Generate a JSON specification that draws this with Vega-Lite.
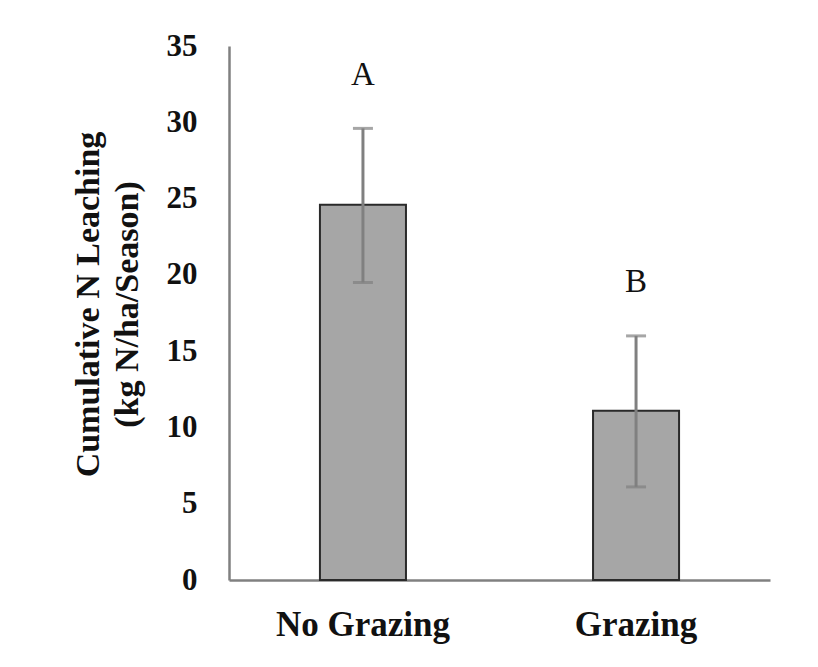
{
  "$schema": "https://vega.github.io/schema/vega-lite/v6.json",
  "autosize": {"type": "none"},
  "width": 541,
  "height": 534,
  "padding": {"left": 229, "top": 46, "right": 48, "bottom": 87},
  "background": "white",
  "config": {"view": {"stroke": null}},
  "data": {"values": [
    {"treatment": "No Grazing", "mean": 24.6, "lo": 19.5, "hi": 29.6, "letter": "A", "ly": 33.1},
    {"treatment": "Grazing", "mean": 11.1, "lo": 6.1, "hi": 16.0, "letter": "B", "ly": 19.5}
  ]},
  "encoding": {
    "x": {
      "field": "treatment", "type": "nominal", "sort": ["No Grazing", "Grazing"],
      "scale": {"paddingInner": 0.685, "paddingOuter": 0.333},
      "axis": {
        "title": null, "labelAngle": 0, "ticks": false, "domainColor": "#808080", "domainWidth": 2.5,
        "labelFont": "Liberation Serif", "labelFontWeight": "bold", "labelFontSize": 35, "labelColor": "#111111",
        "labelPadding": 27
      }
    }
  },
  "layer": [
    {
      "mark": {"type": "bar", "color": "#a6a6a6", "stroke": "#2a2a2a", "strokeWidth": 2},
      "encoding": {
        "y": {
          "field": "mean", "type": "quantitative",
          "scale": {"domain": [0, 35]},
          "axis": {
            "values": [0, 5, 10, 15, 20, 25, 30, 35], "grid": false, "ticks": false,
            "domainColor": "#808080", "domainWidth": 2.5,
            "labelFont": "Liberation Serif", "labelFontWeight": "bold", "labelFontSize": 31, "labelColor": "#111111",
            "labelPadding": 32,
            "title": ["Cumulative N Leaching", "(kg N/ha/Season)"],
            "titleFont": "Liberation Serif", "titleFontWeight": "bold", "titleFontSize": 34, "titleColor": "#111111",
            "titleLineHeight": 39, "titlePadding": 22, "titleY": 258
          }
        }
      }
    },
    {
      "mark": {"type": "rule", "color": "#808080", "strokeWidth": 3},
      "encoding": {"y": {"field": "lo", "type": "quantitative"}, "y2": {"field": "hi"}}
    },
    {
      "mark": {"type": "tick", "orient": "horizontal", "color": "#808080", "size": 20, "thickness": 3},
      "encoding": {"y": {"field": "lo", "type": "quantitative"}}
    },
    {
      "mark": {"type": "tick", "orient": "horizontal", "color": "#808080", "size": 20, "thickness": 3},
      "encoding": {"y": {"field": "hi", "type": "quantitative"}}
    },
    {
      "mark": {"type": "text", "font": "Liberation Serif", "fontSize": 33, "color": "#111111", "baseline": "middle"},
      "encoding": {"y": {"field": "ly", "type": "quantitative"}, "text": {"field": "letter"}}
    }
  ]
}
